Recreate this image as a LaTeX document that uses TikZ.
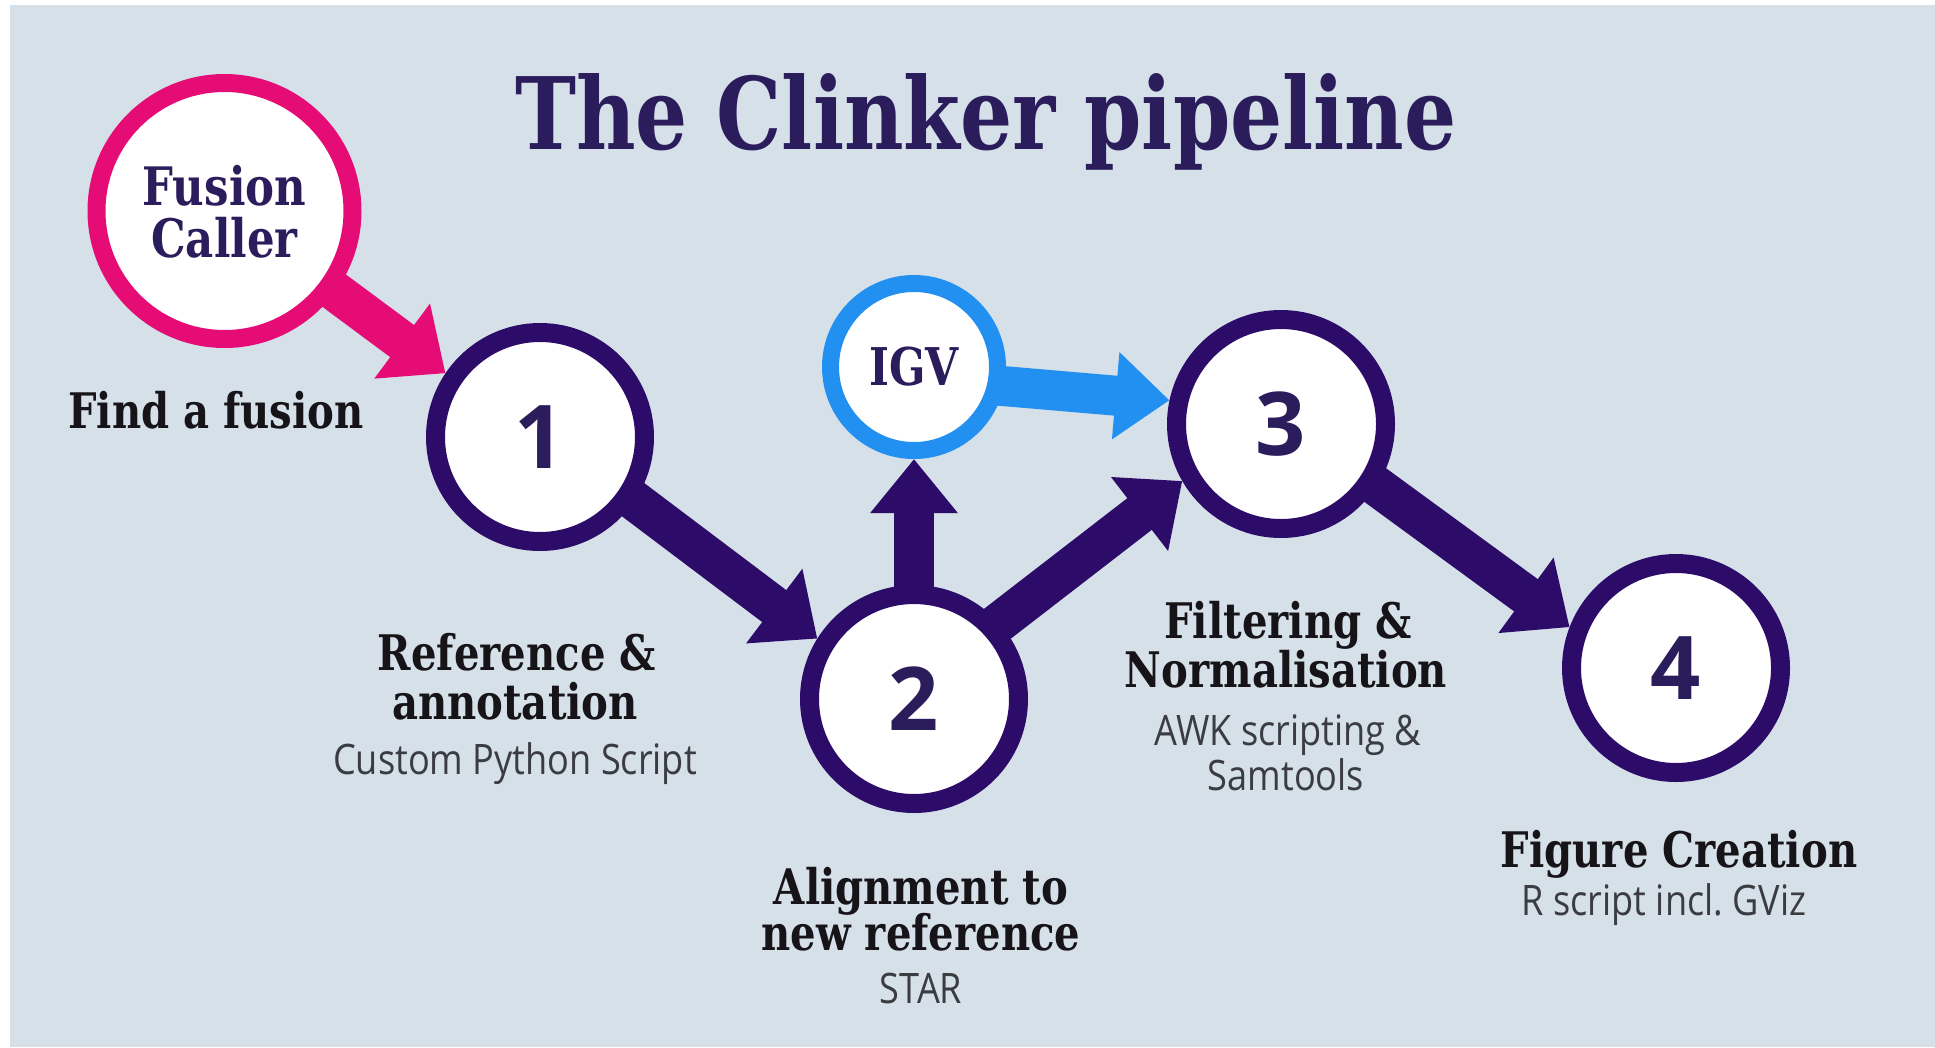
\documentclass[tikz,border=0pt]{standalone}
\usepackage{fontspec}
\usetikzlibrary{arrows.meta}
\newfontfamily\headfont{DejaVu Serif}[FakeStretch=0.82]
\newfontfamily\subfont{Open Sans}[FakeStretch=0.86]
\newfontfamily\digitfont{Open Sans}
\definecolor{bgblue}{RGB}{213,224,232}
\definecolor{ringpurple}{RGB}{45,12,105}
\definecolor{callerpink}{RGB}{230,12,118}
\definecolor{igvblue}{RGB}{34,144,240}
\definecolor{inkindigo}{RGB}{43,28,92}
\definecolor{labelink}{RGB}{22,20,24}
\definecolor{subink}{RGB}{58,60,66}
\pgfdeclarelayer{background}
\pgfsetlayers{background,main}
\frenchspacing
\begin{document}
\begin{tikzpicture}[x=1pt,y=-1pt,
  stepnode/.style={circle, draw=ringpurple, line width=19pt, fill=white,
    minimum size=209pt, inner sep=0pt, text=inkindigo,
    font=\digitfont\bfseries\fontsize{88}{88}\selectfont},
  flowarrow/.style={line width=40pt, -{Triangle[length=54pt,width=90pt]},
    shorten <=-24pt},
  headline/.style={anchor=base, text=labelink,
    font=\headfont\bfseries\fontsize{49}{49}\selectfont},
  subline/.style={anchor=base, text=subink,
    font=\subfont\fontsize{42}{42}\selectfont},
]
\useasboundingbox (0,0) rectangle (1935,1047);

% title
\node[anchor=base, text=inkindigo,
  font=\headfont\bfseries\fontsize{100}{100}\selectfont] (title) at (986,149)
  {The Clinker pipeline};

% circles
\node[circle, draw=callerpink, line width=18pt, fill=white, minimum size=256pt,
  inner sep=0pt] (caller) at (224.5,211) {};
\node[anchor=base, text=inkindigo,
  font=\headfont\bfseries\fontsize{53}{53}\selectfont] (callerA) at (224.5,205) {Fusion};
\node[anchor=base, text=inkindigo,
  font=\headfont\bfseries\fontsize{53}{53}\selectfont] (callerB) at (224.5,257) {Caller};

\node[circle, draw=igvblue, line width=17pt, fill=white, minimum size=167pt,
  inner sep=0pt, text=inkindigo,
  font=\headfont\bfseries\fontsize{52}{52}\selectfont] (igv) at (914,367) {IGV};

\node[stepnode] (n1) at (540,437) {1};
\node[stepnode] (n2) at (914,699) {2};
\node[stepnode] (n3) at (1281,424) {3};
\node[stepnode] (n4) at (1676,668) {4};

% panel and connectors, kept behind the circles
\begin{pgfonlayer}{background}
\fill[white] (0,0) rectangle (1935,1047);
\fill[bgblue] (10,5) rectangle (1935,1047);
\draw[flowarrow, draw=callerpink] (caller.-36) -- (n1.146);
\draw[flowarrow, draw=ringpurple] (n1.-34) -- (n2.148);
\draw[flowarrow, draw=ringpurple, -{Triangle[length=54pt,width=84pt]}] (n2.90) -- (igv.-90);
\draw[flowarrow, draw=ringpurple] (n2.42) -- (n3.210);
\draw[flowarrow, draw=igvblue, -{Triangle[length=54pt,width=84pt]}] (igv.-12) -- (n3.168);
\draw[flowarrow, draw=ringpurple] (n3.-33) -- (n4.159);
\end{pgfonlayer}

% step labels
\node[headline] (find) at (216,428) {Find a fusion};

\node[headline] (l1a) at (517,670) {Reference \&};
\node[headline] (l1b) at (515,719) {annotation};
\node[subline]  (l1c) at (515,774) {Custom Python Script};

\node[headline] (l2a) at (921,904) {Alignment to};
\node[headline] (l2b) at (921,950) {new reference};
\node[subline]  (l2c) at (921,1003) {STAR};

\node[headline] (l3a) at (1288,638) {Filtering \&};
\node[headline] (l3b) at (1286,687) {Normalisation};
\node[subline]  (l3c) at (1288,745) {AWK scripting \&};
\node[subline]  (l3d) at (1286,790) {Samtools};

\node[headline] (l4a) at (1679,867) {Figure Creation};
\node[subline]  (l4b) at (1664,915) {R script incl. GViz};
\end{tikzpicture}
\end{document}
